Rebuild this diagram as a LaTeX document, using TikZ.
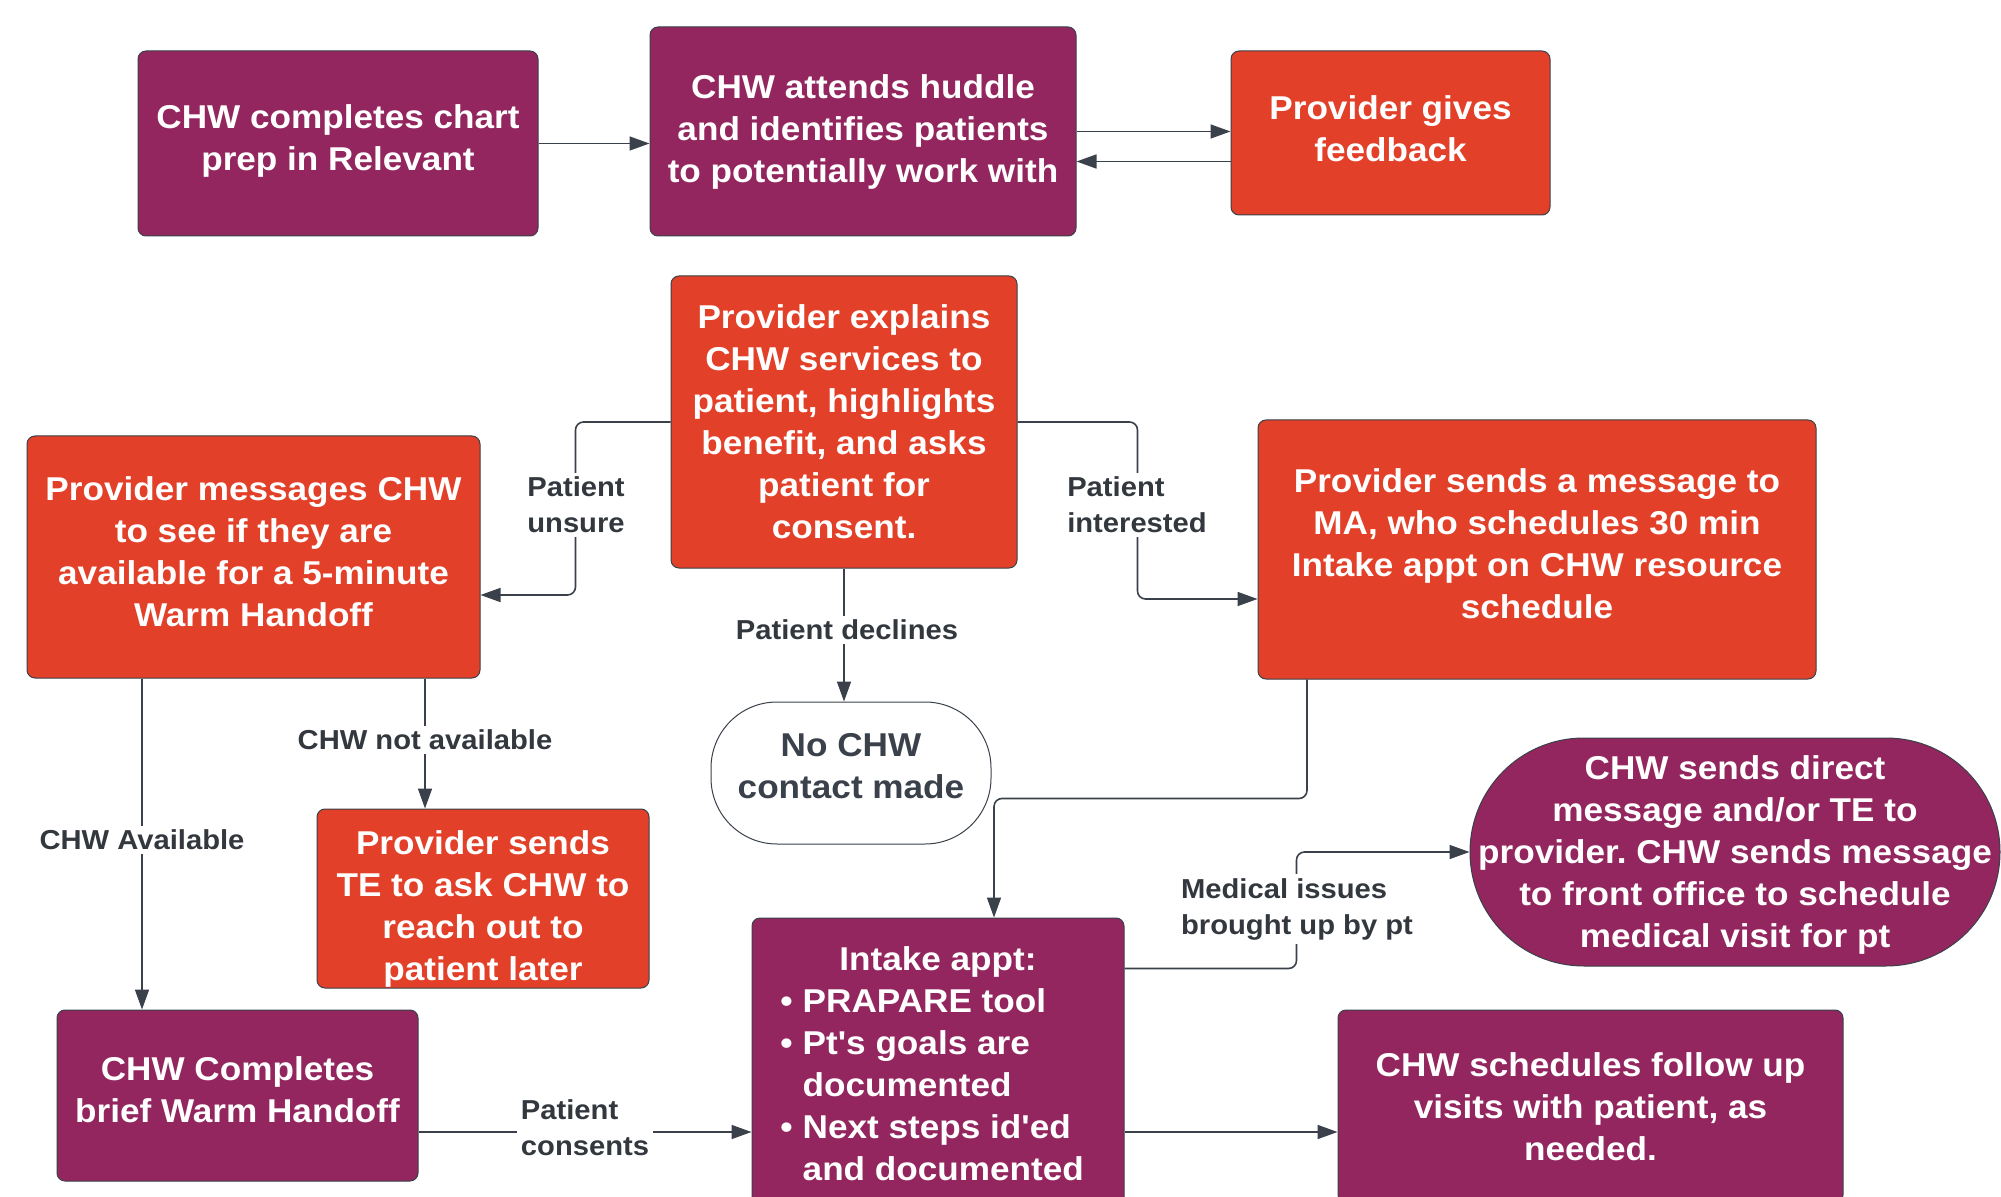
\documentclass[tikz,border=0pt]{standalone}
\usepackage{fontspec}
\setmainfont{Liberation Sans}[FakeStretch=1.065, Ligatures=TeXOff]
\usetikzlibrary{arrows.meta,calc}
\definecolor{chwpurple}{RGB}{147,38,94}
\definecolor{chwred}{RGB}{226,64,40}
\definecolor{edgegray}{RGB}{58,65,74}
\definecolor{labeltext}{RGB}{51,56,63}
\frenchspacing
\tikzset{
  boxbase/.style={draw=edgegray, line width=0.5pt, rounded corners=4pt, inner sep=0pt,
    align=center, text=white, font=\fontsize{16.5}{21}\selectfont\bfseries},
  pbox/.style={boxbase, fill=chwpurple},
  rbox/.style={boxbase, fill=chwred},
  boxtext/.style={inner sep=0pt, align=center, text=white, font=\fontsize{16.5}{21}\selectfont\bfseries},
  conn/.style={draw=edgegray, line width=0.8pt, rounded corners=4pt, -{Triangle[length=10pt,width=7pt]}},
  lbl/.style={fill=white, inner sep=2pt, text=labeltext, font=\fontsize{13.7}{18}\selectfont\bfseries},
}
\begin{document}
\frenchspacing
\begin{tikzpicture}[x=0.5pt,y=-0.5pt]
\useasboundingbox (0,0) rectangle (2001,1197);
\clip (0,0) rectangle (2001,1197);
\fill[white] (0,0) rectangle (2001,1197);

% boxes
\node[pbox, text depth=6pt, minimum width=200pt, minimum height=92.5pt] (A) at (338,143.5) {CHW completes chart\\prep in Relevant};
\node[pbox, minimum width=213pt, minimum height=104.5pt] (B) at (863,131.5) {CHW attends huddle\\and identifies patients\\to potentially work with};
\node[rbox, text depth=4pt, minimum width=159.5pt, minimum height=82pt] (C) at (1390.5,133) {Provider gives\\feedback};
\node[rbox, minimum width=173pt, minimum height=146pt] (D) at (844,422) {Provider explains\\CHW services to\\patient, highlights\\benefit, and asks\\patient for\\consent.};
\node[rbox, text depth=5pt, minimum width=226.5pt, minimum height=121pt] (E) at (253.5,557) {Provider messages CHW\\to see if they are\\available for a 5-minute\\Warm Handoff};
\node[rbox, text depth=6pt, minimum width=279pt, minimum height=129.5pt] (F) at (1537,549.5) {Provider sends a message to\\MA, who schedules 30 min\\Intake appt on CHW resource\\schedule};
\node[boxbase, text depth=7pt, fill=white, text=edgegray, rounded corners=33pt, minimum width=140pt, minimum height=71pt] (N) at (851,773) {No CHW\\contact made};
\node[rbox, minimum width=166pt, minimum height=89.5pt] (G) at (483,898.5) {};
\node[boxtext] (Gt) at (483,908.5) {Provider sends\\TE to ask CHW to\\reach out to\\patient later};
\node[pbox, text depth=6pt, minimum width=180.5pt, minimum height=85.5pt] (H) at (237.5,1095.5) {CHW Completes\\brief Warm Handoff};
\node[pbox, minimum width=186pt, minimum height=153.5pt] (I) at (938,1071.5) {};
\node[boxtext, anchor=base] (It) at (938,970) {Intake appt:};
\node[boxtext, anchor=base west, align=left] (Il) at (780,1012) {%
  \begin{tabular}[t]{@{}l@{\hspace{5pt}}l@{}}
  • & PRAPARE tool\\
  • & Pt's goals are\\
    & documented\\
  • & Next steps id'ed\\
    & and documented
  \end{tabular}};
\node[pbox, text depth=-1.5pt, rounded corners=56.9pt, minimum width=265pt, minimum height=114pt] (J) at (1735,852) {CHW sends direct\\message and/or TE to\\provider. CHW sends message\\to front office to schedule\\medical visit for pt};
\node[pbox, minimum width=252.5pt, minimum height=96.5pt] (K) at (1590.5,1106.5) {CHW schedules follow up\\visits with patient, as\\needed.};

% connectors
\draw[conn] (A.east) -- (A.east -| B.west);
\draw[conn] (B.east) -- (B.east -| C.west);
\draw[conn] ([yshift=-14.25pt]C.west) -- ([yshift=-14.25pt]C.west -| B.east);
\draw[conn] (D.west) -- ++(-47.5pt,0) |- ([yshift=-19pt]E.east);
\draw[conn] (D.east) -- ++(60pt,0) |- ([yshift=-24.75pt]F.west);
\draw[conn] (D.south) -- (D.south |- N.north);
\draw[conn] ([xshift=-55.75pt]E.south) -- ([xshift=-55.75pt]E.south |- H.north);
\draw[conn] ([xshift=85.75pt]E.south) -- ([xshift=85.75pt]E.south |- G.north);
\draw[conn] ([xshift=-115pt]F.south) -- ++(0,-59.5pt) -| ([xshift=28pt]I.north);
\draw[conn] ([yshift=51.5pt]I.east) -- ++(86pt,0) |- (J.west);
\draw[conn] ([yshift=-18.25pt]H.east) -- ([yshift=-18.25pt]H.east -| I.west);
\draw[conn] ([yshift=-30.25pt]I.east) -- ([yshift=-30.25pt]I.east -| K.west);

% labels
\node[lbl, align=center] (l1) at (576,505) {Patient\\unsure};
\node[lbl, align=left] (l2) at (1137,505) {Patient\\interested};
\node[lbl] (l3) at (847,630) {Patient declines};
\node[lbl] (l4) at (425,740) {CHW not available};
\node[lbl] (l5) at (142,840) {CHW Available};
\node[lbl, align=left] (l6) at (1297,909) {Medical issues\\brought up by pt};
\node[lbl, align=left] (l7) at (585,1128) {Patient\\consents};
\end{tikzpicture}
\end{document}
